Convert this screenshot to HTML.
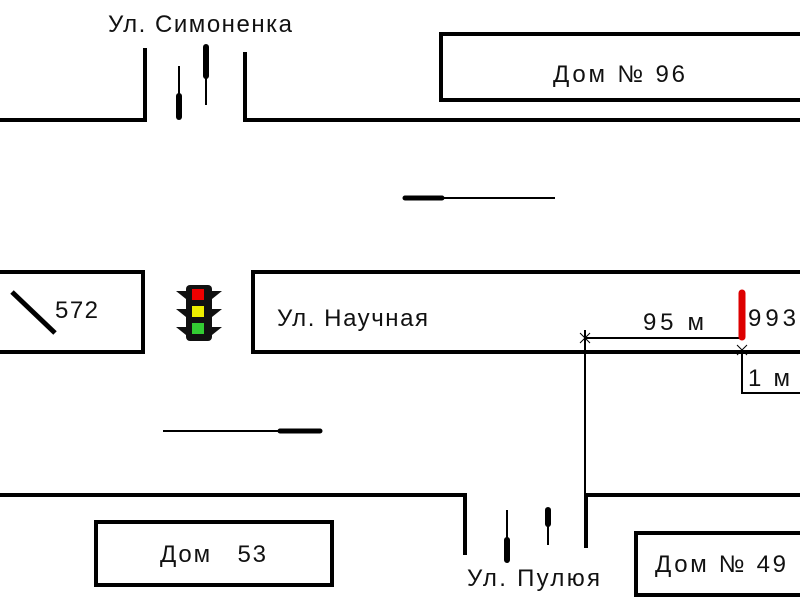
<!DOCTYPE html>
<html><head><meta charset="utf-8"><style>
body{margin:0;background:#fff;}
svg{display:block;}
text{font-family:"Liberation Sans",sans-serif;font-size:24px;letter-spacing:1px;fill:#111;}
</style></head><body>
<svg width="800" height="600" viewBox="0 0 800 600" xmlns="http://www.w3.org/2000/svg">
<g stroke="#000" fill="none" stroke-width="4">
<polyline points="0,120 145,120 145,48"/>
<polyline points="245,52 245,120 800,120"/>
<rect x="441" y="34" width="365" height="66"/>
<rect x="-10" y="272" width="153" height="80"/>
<rect x="253" y="272" width="560" height="80"/>
<polyline points="0,495 465,495 465,555"/>
<polyline points="586,548 586,495 800,495"/>
<rect x="96" y="522" width="236" height="63"/>
<rect x="636" y="533" width="170" height="62"/>
</g>
<g stroke="#000" fill="none">
<line x1="12" y1="292" x2="55" y2="333" stroke-width="5"/>
<line x1="440" y1="198" x2="555" y2="198" stroke-width="2"/>
<line x1="405" y1="198" x2="442" y2="198" stroke-width="5" stroke-linecap="round"/>
<line x1="163" y1="431" x2="282" y2="431" stroke-width="2"/>
<line x1="280" y1="431" x2="320" y2="431" stroke-width="5" stroke-linecap="round"/>
<line x1="179" y1="66" x2="179" y2="98" stroke-width="2"/>
<line x1="179" y1="96" x2="179" y2="117" stroke-width="6" stroke-linecap="round"/>
<line x1="206" y1="47" x2="206" y2="76" stroke-width="6" stroke-linecap="round"/>
<line x1="206" y1="76" x2="206" y2="105" stroke-width="2"/>
<line x1="507" y1="510" x2="507" y2="540" stroke-width="2"/>
<line x1="507" y1="540" x2="507" y2="560" stroke-width="6" stroke-linecap="round"/>
<line x1="548" y1="510" x2="548" y2="524" stroke-width="6" stroke-linecap="round"/>
<line x1="548" y1="524" x2="548" y2="545" stroke-width="2"/>
<line x1="585" y1="338" x2="742" y2="338" stroke-width="2"/>
<line x1="585" y1="330" x2="585" y2="520" stroke-width="2"/>
<polyline points="742,352 742,393 800,393" stroke-width="2"/>
<path d="M580,333l10,10M580,343l10,-10M737,345l10,10M737,355l10,-10" stroke-width="1"/>
</g>
<line x1="742" y1="293" x2="742" y2="337" stroke="#d00" stroke-width="7" stroke-linecap="round"/>
<g>
<rect x="186" y="285" width="26" height="56" rx="4" fill="#111"/>
<path d="M176,291h10v8zM222,291h-10v8zM176,309h10v8zM222,309h-10v8zM176,327h10v8zM222,327h-10v8z" fill="#111"/>
<rect x="192" y="289" width="12" height="11" fill="#e00"/>
<rect x="192" y="306" width="12" height="11" fill="#ee0"/>
<rect x="192" y="323" width="12" height="11" fill="#3c3"/>
</g>
<text x="108" y="32" textLength="185">Ул. Симоненка</text>
<text x="553" y="82" textLength="133">Дом № 96</text>
<text x="55" y="318" textLength="44">572</text>
<text x="277" y="326" textLength="152">Ул. Научная</text>
<text x="643" y="330" textLength="62">95 м</text>
<text x="748" y="326" textLength="49">993</text>
<text x="748" y="386" textLength="43">1 м</text>
<text x="160" y="562" xml:space="preserve" textLength="107">Дом   53</text>
<text x="655" y="572" textLength="132">Дом № 49</text>
<text x="467" y="586" textLength="134">Ул.  Пулюя</text>
</svg>
</body></html>
